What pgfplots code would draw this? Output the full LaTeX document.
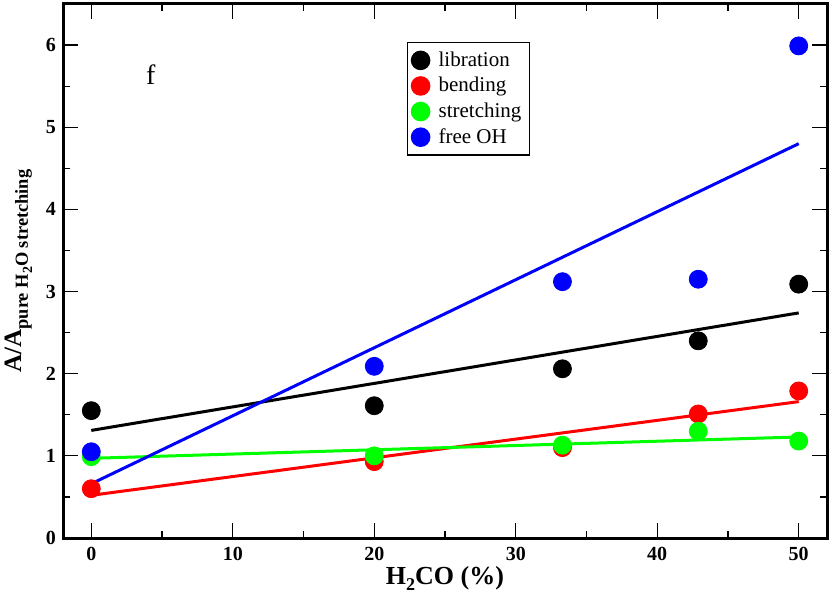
\documentclass[border=0pt]{standalone}
\usepackage{fontspec}
\setmainfont{Liberation Serif}
\usepackage{pgfplots}
\pgfplotsset{compat=1.18}
\begin{document}
\begin{tikzpicture}
\begin{axis}[
  scale only axis,
  width=382pt, height=267pt,
  xmin=-2, xmax=52, ymin=0, ymax=6.5,
  xtick={0,10,20,30,40,50},
  ytick={0,1,2,3,4,5,6},
  minor x tick num=1,
  minor y tick num=1,
  tick align=inside,
  major tick length=7.5pt,
  minor tick length=3.5pt,
  every tick/.style={black, line width=0.6pt},
  axis line style={line width=1.5pt},
  /pgf/number format/assume math mode=true,
  ticklabel style={font=\fontsize{10}{12}\selectfont\bfseries},
  xticklabel style={yshift=-1pt},
  xlabel={\fontsize{13}{15}\selectfont\bfseries H\raisebox{-0.55ex}{\fontsize{9}{10}\selectfont 2}CO (\%)},
  ylabel={\fontsize{12.5}{14}\selectfont\bfseries A/A\raisebox{-0.6ex}{\fontsize{9.2}{10}\selectfont pure H\raisebox{-0.5ex}{\fontsize{7}{8}\selectfont 2}O stretching}},
  xlabel style={yshift=4pt},
  ylabel style={yshift=0pt},
  legend style={at={(axis cs:22.3,6.04)}, anchor=north west, draw=black, line width=0.8pt,
    font=\fontsize{10.5}{12.5}\selectfont, row sep=0pt, column sep=2.5pt, inner xsep=2pt, inner ysep=2.5pt},
  legend cell align=left,
  clip=false,
]
% fit lines
\addplot[black, line width=1.5pt, forget plot] coordinates {(0,1.31) (50,2.74)};
\addplot[red, line width=1.5pt, forget plot] coordinates {(0,0.52) (50,1.66)};
\addplot[green, line width=1.5pt, forget plot] coordinates {(0,0.97) (50,1.23)};
\addplot[blue, line width=1.5pt, forget plot] coordinates {(0,0.66) (50,4.80)};
% data
\addplot[only marks, mark=*, mark size=4.5pt, black, mark options={draw=none, fill=black}]
  coordinates {(0,1.55) (20,1.61) (33.3,2.06) (42.9,2.40) (50,3.09)};
\addlegendentry{libration}
\addplot[only marks, mark=*, mark size=4.5pt, red, mark options={draw=none, fill=red}]
  coordinates {(0,0.60) (20,0.93) (33.3,1.10) (42.9,1.51) (50,1.79)};
\addlegendentry{bending}
\addplot[only marks, mark=*, mark size=4.5pt, green, mark options={draw=none, fill=green}]
  coordinates {(0,0.99) (20,1.00) (33.3,1.13) (42.9,1.30) (50,1.18)};
\addlegendentry{stretching}
\addplot[only marks, mark=*, mark size=4.5pt, blue, mark options={draw=none, fill=blue}]
  coordinates {(0,1.05) (20,2.09) (33.3,3.12) (42.9,3.15) (50,5.99)};
\addlegendentry{free OH}
\node[font=\fontsize{14}{16}\selectfont] at (axis cs:4.2,5.64) {f};
\end{axis}
\pgfresetboundingbox
\path[use as bounding box] ([xshift=-31.5pt,yshift=-30.5pt]current axis.south west) rectangle ([xshift=1.5pt,yshift=2pt]current axis.north east);
\end{tikzpicture}
\end{document}
